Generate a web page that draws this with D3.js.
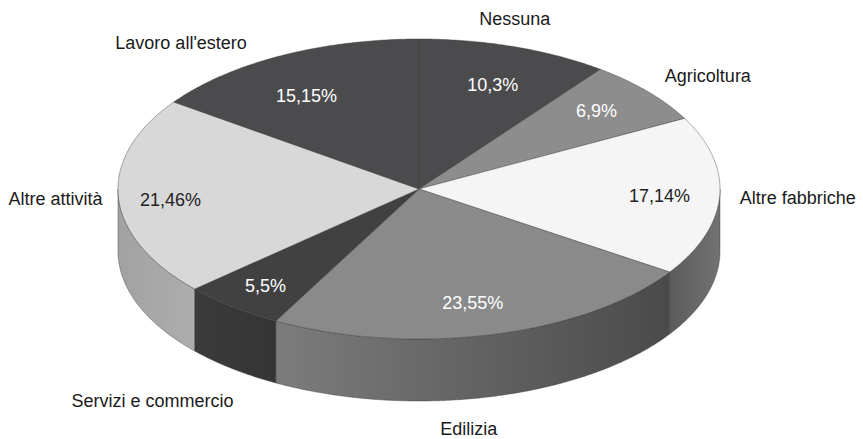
<!DOCTYPE html>
<html><head><meta charset="utf-8">
<script src="https://cdn.jsdelivr.net/npm/d3@7"></script>
<style>
body{margin:0;background:#fff}
svg{display:block}
text{font-family:"Liberation Sans",Arial,sans-serif;font-size:18px}
</style>
</head><body>
<svg id="c" width="863" height="439"></svg>
<script>
// ---- data ----
const categories = ["Nessuna","Agricoltura","Altre fabbriche","Edilizia","Servizi e commercio","Altre attività","Lavoro all'estero"];
const values = [10.3, 6.9, 17.14, 23.55, 5.5, 21.46, 15.15];
const valueLabels = ["10,3%","6,9%","17,14%","23,55%","5,5%","21,46%","15,15%"];

// ---- styles ----
const topColors  = ["#4b4b4d","#8d8d8d","#f5f5f5","#8a8a8a","#414141","#d8d8d8","#4b4b4d"];
const sideLeft   = ["#3e3e3e","#707070","#5c5c5c","#7c7c7c","#3b3b3b","#a2a2a2","#3e3e3e"];
const sideRight  = ["#3e3e3e","#707070","#727272","#4a4a4a","#353535","#adadad","#3e3e3e"];
const pctColors  = ["#fff","#fff","#222","#fff","#fff","#222","#fff"];

// ---- layout ----
const cx = 419, cy = 189, rx = 301, ry = 150, depth = 62, kPct = 0.78;
const catAnchor = ["middle","middle","start","middle","middle","end","middle"];
const catNudge  = [[0,-28.5],[60,-16.5],[20,1.5],[-23,93.5],[-80,93.5],[-16,1.5],[-100,-13.5]];
const pctNudge  = [[-1,6],[-1,-2],[6,1],[-3,0],[-8,5],[-14,4],[-5,11]];

const svg = d3.select("#c");
const defs = svg.append("defs");

const pie = d3.pie().sort(null).value(d => d).startAngle(0).endAngle(2*Math.PI);
const arcs = pie(values);

const P = (a, k = 1, dy = 0) => [cx + rx*k*Math.sin(a), cy - ry*k*Math.cos(a) + dy];

function arcPts(a0, a1, dy) {
  const n = Math.max(2, Math.ceil((a1 - a0) / 0.01));
  const pts = [];
  for (let i = 0; i <= n; i++) pts.push(P(a0 + (a1 - a0) * i / n, 1, dy));
  return pts;
}

// gradients for sides
arcs.forEach((d, i) => {
  const g = defs.append("linearGradient").attr("id", "side" + i)
    .attr("x1", 0).attr("x2", 1).attr("y1", 0).attr("y2", 0);
  g.append("stop").attr("offset", 0).attr("stop-color", sideLeft[i]);
  g.append("stop").attr("offset", 1).attr("stop-color", sideRight[i]);
});

// sides (front half only)
const sideG = svg.append("g");
arcs.forEach((d, i) => {
  const s0 = Math.max(d.startAngle, Math.PI/2), s1 = Math.min(d.endAngle, 3*Math.PI/2);
  if (s0 >= s1) return;
  const top = arcPts(s0, s1, 0), bot = arcPts(s0, s1, depth).reverse();
  const p = d3.path();
  top.forEach((q, j) => j ? p.lineTo(q[0], q[1]) : p.moveTo(q[0], q[1]));
  bot.forEach(q => p.lineTo(q[0], q[1]));
  p.closePath();
  sideG.append("path").attr("d", p.toString())
    .attr("fill", `url(#side${i})`)
    .attr("stroke", "#3a3a3a").attr("stroke-width", 0.6).attr("stroke-opacity", 0.7);
});

// top faces
const topG = svg.append("g");
arcs.forEach((d, i) => {
  const p = d3.path();
  p.moveTo(cx, cy);
  arcPts(d.startAngle, d.endAngle, 0).forEach(q => p.lineTo(q[0], q[1]));
  p.closePath();
  topG.append("path").attr("d", p.toString())
    .attr("fill", topColors[i])
    .attr("stroke", "#3a3a3a").attr("stroke-width", 0.6).attr("stroke-opacity", 0.7)
    .attr("stroke-linejoin", "round");
});

// percent labels
arcs.forEach((d, i) => {
  const m = (d.startAngle + d.endAngle) / 2;
  const q = P(m, kPct);
  svg.append("text")
    .attr("x", q[0] + pctNudge[i][0]).attr("y", q[1] + pctNudge[i][1])
    .attr("dy", "0.36em").attr("text-anchor", "middle")
    .attr("fill", pctColors[i]).text(valueLabels[i]);
});

// category labels
arcs.forEach((d, i) => {
  const m = (d.startAngle + d.endAngle) / 2;
  const q = P(m, 1);
  svg.append("text")
    .attr("x", q[0] + catNudge[i][0]).attr("y", q[1] + catNudge[i][1])
    .attr("dy", "0.36em").attr("text-anchor", catAnchor[i])
    .attr("fill", "#1a1a1a").text(categories[i]);
});
</script>
</body></html>
